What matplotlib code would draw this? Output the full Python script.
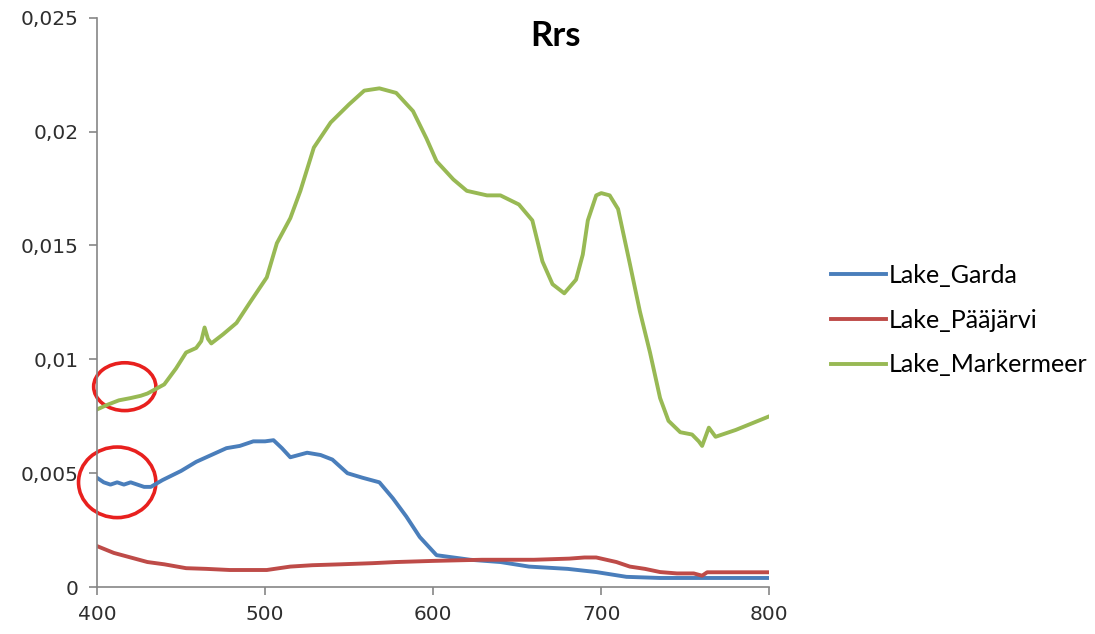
import matplotlib.pyplot as plt
from matplotlib.patches import Ellipse

# wavelengths (nm) and Rrs values
wl_garda = [400, 404, 408, 412, 416, 420, 424, 428, 432, 439, 450, 459, 468, 477, 485, 493,
            500, 505, 510, 515, 520, 525, 533, 540, 549, 558, 568, 576, 584, 592, 602,
            612, 622, 640, 657, 680, 697, 715, 735, 760, 780, 800]
rrs_garda = [0.0048, 0.0046, 0.0045, 0.0046, 0.0045, 0.0046, 0.0045, 0.0044, 0.0044, 0.0047,
             0.0051, 0.0055, 0.0058, 0.0061, 0.0062, 0.0064, 0.0064, 0.00645, 0.0061, 0.0057,
             0.0058, 0.0059, 0.0058, 0.0056, 0.0050, 0.0048, 0.0046, 0.0039, 0.0031, 0.0022,
             0.0014, 0.0013, 0.0012, 0.0011, 0.0009, 0.0008, 0.00066, 0.00045, 0.0004, 0.0004,
             0.0004, 0.0004]

wl_paaj = [400, 410, 420, 430, 440, 453, 465, 479, 501, 515, 528, 545, 564, 578, 600, 629,
           660, 681, 690, 697, 709, 717, 726, 735, 745, 755, 760, 763, 780, 800]
rrs_paaj = [0.0018, 0.0015, 0.0013, 0.0011, 0.0010, 0.00083, 0.0008, 0.00075, 0.00075, 0.0009,
            0.00096, 0.0010, 0.00105, 0.0011, 0.00115, 0.0012, 0.0012, 0.00125, 0.0013, 0.0013,
            0.0011, 0.0009, 0.0008, 0.00066, 0.0006, 0.0006, 0.0005, 0.00065, 0.00065, 0.00065]

wl_mark = [400, 406, 413, 420, 426, 430, 440, 447, 453, 459, 462, 464, 466, 468, 475, 483,
           491, 501, 507, 515, 521, 529, 539, 550, 559, 568, 578, 588, 596, 602, 612, 620,
           632, 640, 651, 659, 665, 671, 678, 685, 689, 692, 697, 700, 705, 710, 717, 723,
           729, 735, 740, 747, 754, 758, 760, 764, 768, 780, 790, 800]
rrs_mark = [0.0078, 0.0080, 0.0082, 0.0083, 0.0084, 0.0085, 0.0089, 0.0096, 0.0103, 0.0105,
            0.0108, 0.0114, 0.0109, 0.0107, 0.0111, 0.0116, 0.0125, 0.0136, 0.0151, 0.0162,
            0.0174, 0.0193, 0.0204, 0.0212, 0.0218, 0.0219, 0.0217, 0.0209, 0.0197, 0.0187,
            0.0179, 0.0174, 0.0172, 0.0172, 0.0168, 0.0161, 0.0143, 0.0133, 0.0129, 0.0135,
            0.0146, 0.0161, 0.0172, 0.0173, 0.0172, 0.0166, 0.0142, 0.0121, 0.0103, 0.0083,
            0.0073, 0.0068, 0.0067, 0.0064, 0.0062, 0.0070, 0.0066, 0.0069, 0.0072, 0.0075]

fig = plt.figure(figsize=(10.95, 6.34), dpi=100)
ax = fig.add_axes([0.0886, 0.074, 0.614, 0.898])

ax.plot(wl_garda, rrs_garda, color='#4a7ebb', lw=2.8, label='Lake_Garda')
ax.plot(wl_paaj, rrs_paaj, color='#be4b48', lw=2.8, label='Lake_Pääjärvi')
ax.plot(wl_mark, rrs_mark, color='#98b954', lw=2.8, label='Lake_Markermeer')

ax.set_xlim(400, 800)
ax.set_ylim(0, 0.025)
ax.set_xticks([400, 500, 600, 700, 800])
ax.set_yticks([0, 0.005, 0.01, 0.015, 0.02, 0.025])
ax.set_yticklabels(['0', '0,005', '0,01', '0,015', '0,02', '0,025'])
for s in ['top', 'right']:
    ax.spines[s].set_visible(False)
for s in ['left', 'bottom']:
    ax.spines[s].set_color('#868686')
    ax.spines[s].set_linewidth(1.2)
ax.tick_params(colors='#868686', labelcolor='#2e2e2e', labelsize=14.5, length=6, width=1.2,
               pad=7)

ax.text(0.6815, 0.9675, 'Rrs', transform=ax.transAxes, ha='center', va='center',
        fontsize=25, fontweight='bold', family='Lato')

# red circles marking the start of the spectra
for cx, cy, w, h in [(416.5, 0.0088, 37, 0.0021), (412, 0.0046, 46, 0.0031)]:
    ax.add_patch(Ellipse((cx, cy), w, h, fill=False, ec='#e8201e', lw=2.6, clip_on=False))

ax.legend(loc='center left', bbox_to_anchor=(1.092, 0.469), frameon=False,
          prop={'family': 'Lato', 'size': 18}, handlelength=2.2, handletextpad=0.12,
          labelspacing=0.87, borderaxespad=0, borderpad=0)

plt.savefig('out.png', dpi=100)
